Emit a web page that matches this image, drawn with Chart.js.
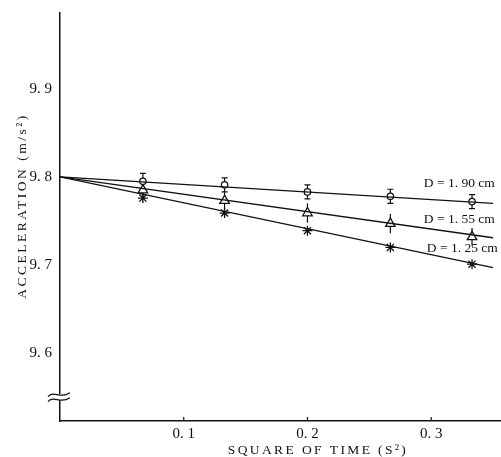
<!DOCTYPE html>
<html>
<head>
<meta charset="utf-8">
<script src="https://cdn.jsdelivr.net/npm/chart.js@4"></script>
<style>
  html, body { margin: 0; padding: 0; background: #fff; }
  #wrap { width: 501px; height: 457px; }
</style>
</head>
<body>
<div id="wrap"><canvas id="chart" width="501" height="457"></canvas></div>
<script>
// square of time (s^2) at which the measurements were taken
const times = [0.067, 0.133, 0.2, 0.267, 0.333];

// measured accelerations for each diameter
const accel190 = [9.795, 9.791, 9.783, 9.778, 9.772];
const accel155 = [9.785, 9.773, 9.759, 9.747, 9.732];
const accel125 = [9.776, 9.759, 9.739, 9.720, 9.701];

// error bar half-heights
const err190 = [0.009, 0.008, 0.008, 0.008, 0.008];
const err155 = [0.010, 0.010, 0.011, 0.011, 0.010];

// fitted straight lines: start and end
const fitX = [0, 0.35];
const fit190 = [9.8, 9.770];
const fit155 = [9.8, 9.731];
const fit125 = [9.8, 9.697];

const seriesLabels = ['D = 1. 90 cm', 'D = 1. 55 cm', 'D = 1. 25 cm'];
const xTicks = [0.1, 0.2, 0.3];
const yTicks = [9.6, 9.7, 9.8, 9.9];

const serif = '"Liberation Serif", "DejaVu Serif", serif';
const ink = '#111';

function pts(xs, ys) {
  return xs.map((x, i) => ({ x: x, y: ys[i] }));
}

function fitLine(ys) {
  return {
    type: 'line',
    data: pts(fitX, ys),
    borderColor: ink,
    borderWidth: 1.4,
    pointRadius: 0,
    fill: false
  };
}

function markers(ys, style, radius, err) {
  return {
    type: 'scatter',
    data: pts(times, ys),
    pointStyle: style,
    pointRadius: radius,
    pointBackgroundColor: '#fff',
    pointBorderColor: ink,
    pointBorderWidth: 1.3,
    errors: err
  };
}

const extras = {
  id: 'extras',
  beforeDatasetsDraw(chart) {
    const { ctx, scales: { x, y } } = chart;
    ctx.save();
    ctx.strokeStyle = ink;
    ctx.lineWidth = 1.2;
    // error bars
    chart.data.datasets.forEach(ds => {
      if (!ds.errors) return;
      ds.data.forEach((p, i) => {
        const px = x.getPixelForValue(p.x);
        const top = y.getPixelForValue(p.y + ds.errors[i]);
        const bot = y.getPixelForValue(p.y - ds.errors[i]);
        ctx.beginPath();
        ctx.moveTo(px, top);
        ctx.lineTo(px, bot);
        if (ds.pointStyle === 'circle') {
          ctx.moveTo(px - 3, top); ctx.lineTo(px + 3, top);
          ctx.moveTo(px - 3, bot); ctx.lineTo(px + 3, bot);
        }
        ctx.stroke();
      });
    });
    ctx.restore();
  },
  afterDraw(chart) {
    const { ctx, scales: { x, y }, chartArea } = chart;
    ctx.save();
    ctx.fillStyle = ink;
    ctx.strokeStyle = ink;

    // small ticks on the x axis pointing up
    ctx.lineWidth = 1.2;
    xTicks.forEach(v => {
      const px = x.getPixelForValue(v);
      ctx.beginPath();
      ctx.moveTo(px, chartArea.bottom);
      ctx.lineTo(px, chartArea.bottom - 4);
      ctx.stroke();
    });

    // axis break mark
    const bx = chartArea.left;
    const by = y.getPixelForValue(9.55);
    ctx.fillStyle = '#fff';
    ctx.fillRect(bx - 3, by - 3, 6, 6);
    ctx.lineWidth = 1.2;
    [-2.5, 2.5].forEach(off => {
      ctx.beginPath();
      ctx.moveTo(bx - 12, by + off + 2);
      ctx.bezierCurveTo(bx - 6, by + off - 5, bx + 0, by + off + 5, bx + 10, by + off - 2);
      ctx.stroke();
    });

    // series labels beside the right end of the lines
    ctx.fillStyle = ink;
    ctx.font = '13.5px ' + serif;
    ctx.textBaseline = 'middle';
    ctx.textAlign = 'left';
    const lx = x.getPixelForValue(0.294);
    ctx.fillText(seriesLabels[0], lx, y.getPixelForValue(fit190[1]) - 20);
    ctx.fillText(seriesLabels[1], lx, y.getPixelForValue(fit155[1]) - 18);
    ctx.fillText(seriesLabels[2], lx + 3, y.getPixelForValue(fit125[1]) - 19);

    // x axis title
    ctx.font = '13.5px ' + serif;
    ctx.textAlign = 'center';
    ctx.letterSpacing = '2.4px';
    ctx.fillText('SQUARE OF TIME (S²)', 318, 450);

    // y axis title
    ctx.translate(22, 206);
    ctx.rotate(-Math.PI / 2);
    ctx.letterSpacing = '2.5px';
    ctx.fillText('ACCELERATION (m/s²)', 0, 0);
    ctx.restore();
  }
};

new Chart(document.getElementById('chart'), {
  data: {
    datasets: [
      fitLine(fit190),
      fitLine(fit155),
      fitLine(fit125),
      markers(accel190, 'circle', 3.2, err190),
      markers(accel155, 'triangle', 5.5, err155),
      markers(accel125, 'star', 5, null)
    ]
  },
  options: {
    responsive: false,
    animation: false,
    layout: { autoPadding: false, padding: { top: 13, right: 1, left: 0, bottom: 0 } },
    plugins: { legend: { display: false }, tooltip: { enabled: false } },
    scales: {
      x: {
        type: 'linear',
        min: 0,
        max: 0.3556,
        afterFit(s) { s.height = 36; s.paddingLeft = 0; s.paddingRight = 0; },
        afterBuildTicks(s) { s.ticks = xTicks.map(v => ({ value: v })); },
        grid: { drawOnChartArea: false, drawTicks: false },
        border: { color: ink, width: 1.5 },
        ticks: {
          padding: 4,
          color: ink,
          font: { family: serif, size: 15 },
          callback: v => v.toFixed(1).replace('.', '. ')
        }
      },
      y: {
        type: 'linear',
        min: 9.523,
        max: 9.986,
        afterFit(s) { s.width = 60; s.paddingTop = 0; s.paddingBottom = 0; },
        afterBuildTicks(s) { s.ticks = yTicks.map(v => ({ value: v })); },
        grid: { drawOnChartArea: false, drawTicks: false },
        border: { color: ink, width: 1.5 },
        ticks: {
          padding: 8,
          color: ink,
          font: { family: serif, size: 15 },
          callback: v => v.toFixed(1).replace('.', '. ')
        }
      }
    }
  },
  plugins: [extras]
});
</script>
</body>
</html>
